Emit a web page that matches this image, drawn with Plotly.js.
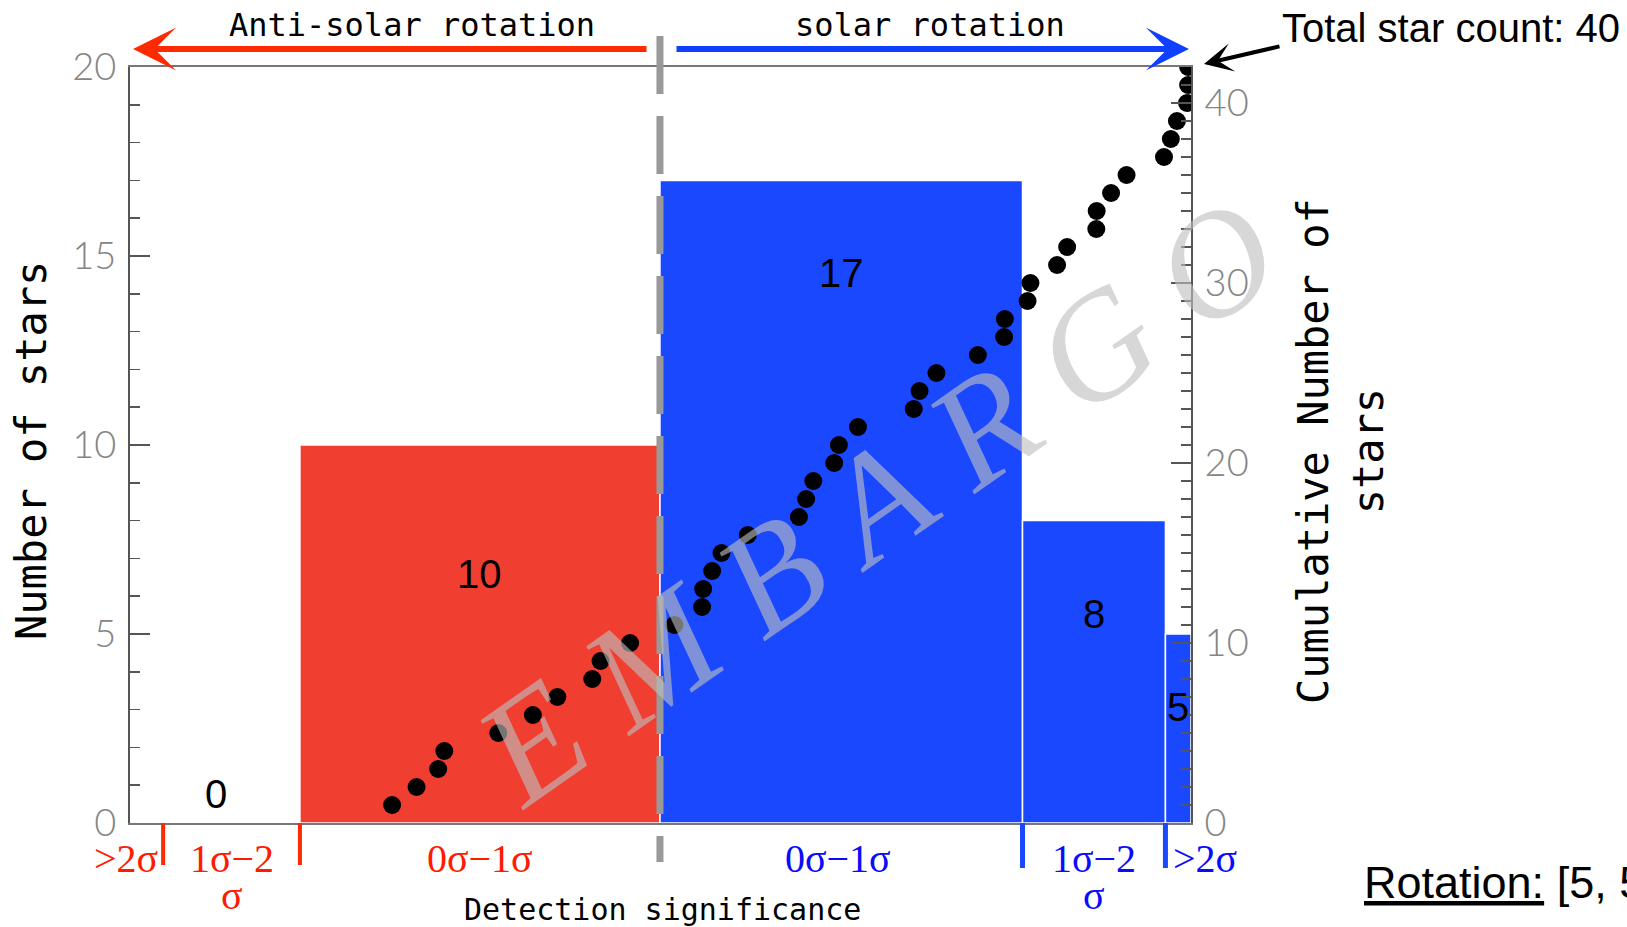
<!DOCTYPE html>
<html>
<head>
<meta charset="utf-8">
<script src="https://cdn.plot.ly/plotly-3.0.1.min.js"></script>
<style>
  html, body { margin: 0; padding: 0; background: #ffffff; }
  #chart { width: 1627px; height: 927px; }
</style>
</head>
<body>
<div id="chart"></div>
<script>
// Detection-significance bins along the x axis (display units:
// 0 = no detection, negative = anti-solar, positive = solar).
const binEdges = [-1.472, -1.380, -1.000, 0.000, 1.007, 1.404, 1.475];
const binNames = ['>2σ', '1σ−2', '0σ−1σ', '0σ−1σ', '1σ−2', '>2σ'];
const binNamesSecondLine = ['', 'σ', '', '', 'σ', ''];
const binCounts = [0, 0, 10, 17, 8, 5];
const binCountShown = [false, true, true, true, true, true];

// Individual stars, sorted by significance, with their running total.
const starSignificance = [
  -0.744, -0.676, -0.616, -0.599, -0.449, -0.353, -0.285, -0.188, -0.165, -0.083,
   0.040,  0.117,  0.120,  0.145,  0.171,  0.244,  0.386,  0.406,  0.426,  0.484,
   0.497,  0.550,  0.705,  0.721,  0.768,  0.883,  0.956,  0.958,  1.021,  1.029,
   1.103,  1.131,  1.212,  1.213,  1.253,  1.296,  1.400,  1.419,  1.436,  1.464,
   1.467,  1.467
];
const cumulativeStars = [
   1,  2,  3,  4,  5,  6,  7,  8,  9, 10,
  11, 12, 13, 14, 15, 16, 17, 18, 19, 20,
  21, 22, 23, 24, 25, 26, 27, 28, 29, 30,
  31, 32, 33, 34, 35, 36, 37, 38, 39, 40,
  41, 42
];

const leftTicks = [0, 5, 10, 15, 20];
const rightTicks = [0, 10, 20, 30, 40];
const totalStarsText = 'Total star count: 40';

// ---- styling ----
const RED = '#F03E30', BLUE = '#1A48FF';
const RED_TEXT = '#FF1A00', BLUE_TEXT = '#0A0AFF';
const binSide = ['anti', 'anti', 'anti', 'solar', 'solar', 'solar'];
const binColors = binSide.map(s => s === 'anti' ? RED : BLUE);

const binCenters = binCounts.map((_, i) => (binEdges[i] + binEdges[i + 1]) / 2);
const binWidths = binCounts.map((_, i) => binEdges[i + 1] - binEdges[i]);

// plot-area geometry in pixels, used to place the decorations around it
const M = { l: 130, r: 436, t: 67, b: 104 };
const W = 1627, H = 927;
const PW = W - M.l - M.r, PH = H - M.t - M.b;
const px = x => (x - M.l) / PW;
const py = y => (M.t + PH - y) / PH;

const monoFont = 'DejaVu Sans Mono, Liberation Mono, monospace';
const tickFont = { family: 'Lato, Roboto, sans-serif', size: 38, color: '#858585', weight: 300 };
const serifFont = 'Liberation Serif, DejaVu Serif, serif';
const sansFont = 'Liberation Sans, Arial, sans-serif';

// centred text helper
const label = (o) => Object.assign({ showarrow: false, xanchor: 'center', yanchor: 'middle' }, o);

const traces = [
  {
    type: 'bar',
    x: binCenters,
    y: binCounts,
    width: binWidths,
    marker: { color: binColors, line: { color: '#ffffff', width: 1.5 } },
    yaxis: 'y',
    hoverinfo: 'skip'
  },
  {
    type: 'scatter',
    mode: 'markers',
    x: starSignificance,
    y: cumulativeStars,
    yaxis: 'y2',
    marker: { color: '#000000', size: 18 },
    hoverinfo: 'skip'
  }
];

const annotations = [];

// counts written inside the bins
const countShift = [0, -16, 0, 0, 0, 0];
const countY = [0, 0.038, 0.329, 0.728, 0.276, 0.153];
binCounts.forEach((c, i) => {
  if (!binCountShown[i]) return;
  annotations.push(label({
    xref: 'x', yref: 'paper', x: binCenters[i], y: countY[i], xshift: countShift[i],
    text: String(c),
    font: { family: sansFont, size: 40, color: '#000000' }
  }));
});

// bin names under the axis
const nameShift = [-21, 0, 0, -3, 0, 27];
binNames.forEach((t, i) => {
  const col = binSide[i] === 'anti' ? RED_TEXT : BLUE_TEXT;
  annotations.push(label({
    xref: 'x', yref: 'paper', x: binCenters[i], y: py(858), xshift: nameShift[i],
    text: t,
    font: { family: serifFont, size: 40, color: col }
  }));
  if (binNamesSecondLine[i]) {
    annotations.push(label({
      xref: 'x', yref: 'paper', x: binCenters[i], y: py(895), xshift: nameShift[i],
      text: binNamesSecondLine[i],
      font: { family: serifFont, size: 40, color: col }
    }));
  }
});

// direction arrows across the top
annotations.push(
  { xref: 'paper', yref: 'paper', x: px(133), y: py(49), ax: 515, ay: 0, text: '',
    showarrow: true, arrowhead: 3, arrowsize: 1.2, arrowwidth: 6, arrowcolor: '#FF2A00' },
  { xref: 'paper', yref: 'paper', x: px(1189), y: py(49), ax: -514, ay: 0, text: '',
    showarrow: true, arrowhead: 3, arrowsize: 1.2, arrowwidth: 6, arrowcolor: '#1040FF' },
  label({ xref: 'paper', yref: 'paper', x: px(412), y: py(25), text: 'Anti-solar rotation',
    font: { family: monoFont, size: 32, color: '#000000' } }),
  label({ xref: 'paper', yref: 'paper', x: px(930), y: py(25), text: 'solar rotation',
    font: { family: monoFont, size: 32, color: '#000000' } }),
  { xref: 'paper', yref: 'paper', x: px(1204), y: py(64), ax: 77, ay: -18, text: '',
    showarrow: true, arrowhead: 3, arrowsize: 1.2, arrowwidth: 4, arrowcolor: '#000000' },
  label({ xref: 'paper', yref: 'paper', x: px(1280), y: py(28), xanchor: 'left', text: totalStarsText,
    font: { family: sansFont, size: 40, color: '#000000' } })
);

// axis titles
annotations.push(
  label({ xref: 'paper', yref: 'paper', x: px(31), y: py(451), textangle: -90,
    text: 'Number of stars',
    font: { family: monoFont, size: 42, color: '#000000' } }),
  label({ xref: 'paper', yref: 'paper', x: px(1341), y: py(451), textangle: -90,
    text: 'Cumulative Number of<br>stars',
    font: { family: monoFont, size: 42, color: '#000000' } }),
  label({ xref: 'paper', yref: 'paper', x: px(662), y: py(909),
    text: 'Detection significance',
    font: { family: monoFont, size: 30, color: '#000000' } }),
  label({ xref: 'paper', yref: 'paper', x: px(1362), y: py(882), xanchor: 'left',
    text: '<u>Rotation:</u> [5, 5',
    font: { family: sansFont, size: 45, color: '#000000' } })
);

// watermark
const gap = '\u00A0';
annotations.push(label({
  xref: 'paper', yref: 'paper', x: px(876), y: py(501), textangle: -35,
  text: ['E', 'M', 'B', 'A', 'R', 'G', 'O'].join(gap),
  font: { family: serifFont, size: 150, color: 'rgba(190,190,190,0.62)', style: 'italic' }
}));

const shapes = [
  // no-detection divider
  { type: 'line', xref: 'x', yref: 'paper', x0: binEdges[3], x1: binEdges[3],
    y0: py(36), y1: py(862), line: { color: '#999999', width: 7, dash: '58px,22px' } },
  // bin boundaries under the axis
  { type: 'line', xref: 'x', yref: 'paper', x0: binEdges[1], x1: binEdges[1],
    y0: 0, y1: py(865), line: { color: '#FF2A00', width: 4 } },
  { type: 'line', xref: 'x', yref: 'paper', x0: binEdges[2], x1: binEdges[2],
    y0: 0, y1: py(865), line: { color: '#FF2A00', width: 4 } },
  { type: 'line', xref: 'x', yref: 'paper', x0: binEdges[4], x1: binEdges[4],
    y0: 0, y1: py(868), line: { color: BLUE, width: 5 } },
  { type: 'line', xref: 'x', yref: 'paper', x0: binEdges[5], x1: binEdges[5],
    y0: 0, y1: py(868), line: { color: BLUE, width: 5 } }
];

const layout = {
  width: W, height: H,
  margin: M,
  paper_bgcolor: '#ffffff', plot_bgcolor: '#ffffff',
  showlegend: false,
  bargap: 0,
  xaxis: {
    range: [binEdges[0], binEdges[binEdges.length - 1]],
    showgrid: false, zeroline: false, showticklabels: false, ticks: '',
    showline: true, mirror: true, linecolor: '#777777', linewidth: 2,
    fixedrange: true
  },
  yaxis: {
    range: [0, 20], tickvals: leftTicks, ticktext: leftTicks.map(String),
    showgrid: false, zeroline: false,
    showline: true, linecolor: '#555555', linewidth: 2,
    ticks: 'inside', ticklen: 20, tickwidth: 1.5, tickcolor: '#555555',
    minor: { dtick: 1, ticks: 'inside', ticklen: 10, tickwidth: 1.5, tickcolor: '#555555', showgrid: false },
    tickfont: tickFont, ticklabelstandoff: 4,
    fixedrange: true
  },
  yaxis2: {
    overlaying: 'y', side: 'right',
    range: [0, 42], tickvals: rightTicks, ticktext: rightTicks.map(String),
    showgrid: false, zeroline: false,
    showline: true, linecolor: '#555555', linewidth: 2,
    ticks: 'inside', ticklen: 20, tickwidth: 1.5, tickcolor: '#555555',
    minor: { dtick: 1, ticks: 'inside', ticklen: 10, tickwidth: 1.5, tickcolor: '#555555', showgrid: false },
    tickfont: tickFont, ticklabelstandoff: 4,
    fixedrange: true
  },
  annotations: annotations,
  shapes: shapes
};

Plotly.newPlot('chart', traces, layout, { displayModeBar: false, staticPlot: true });
</script>
</body>
</html>
